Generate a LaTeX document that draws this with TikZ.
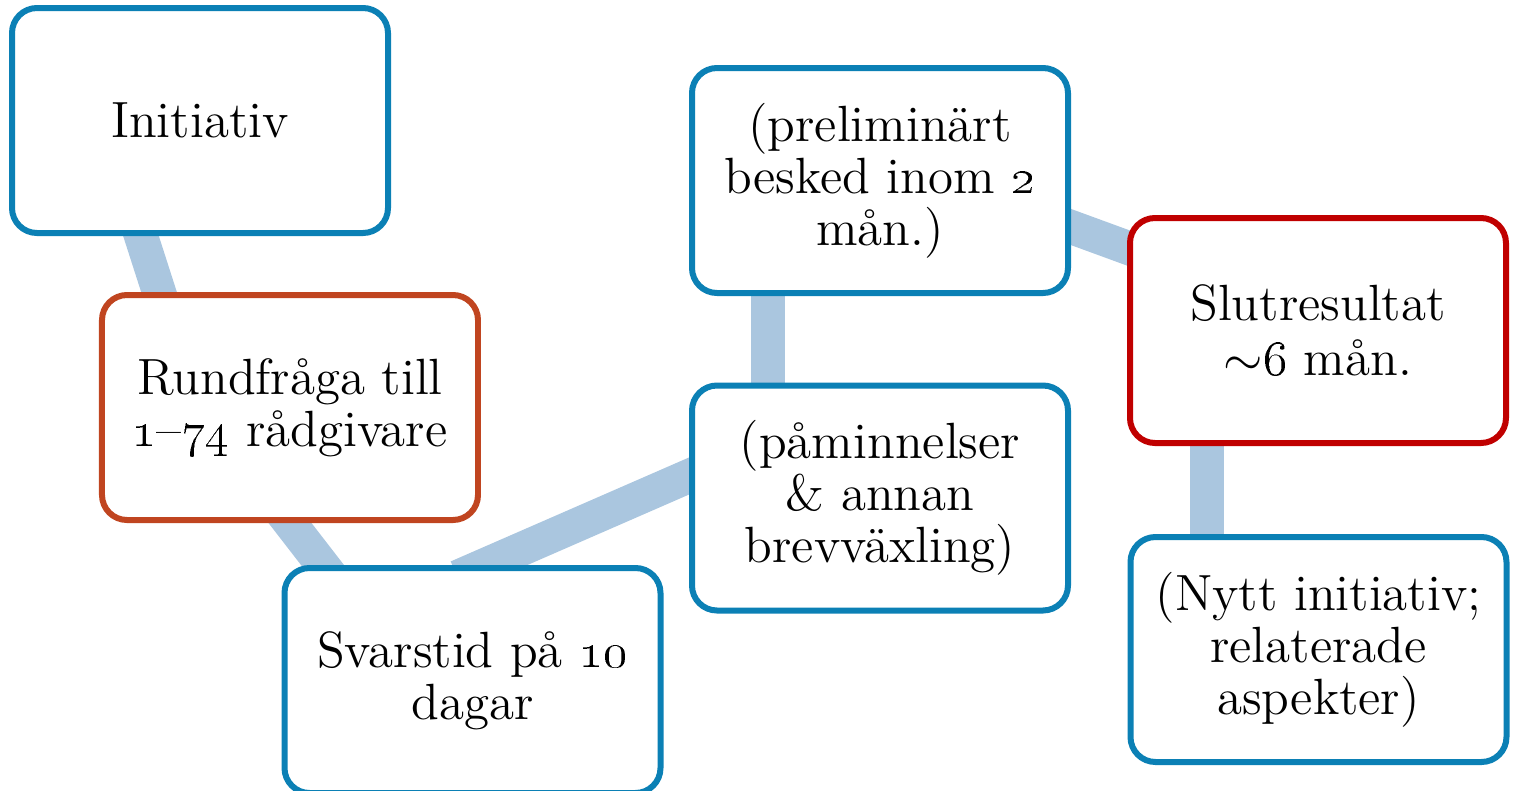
\documentclass[tikz,border=0pt]{standalone}
\usetikzlibrary{backgrounds}
\definecolor{boxblue}{HTML}{0B80B5}
\definecolor{boxorange}{HTML}{C04520}
\definecolor{boxred}{HTML}{C00000}
\definecolor{linkblue}{HTML}{AAC6DF}

\begin{document}
\begin{tikzpicture}[
  box/.style={draw=boxblue,line width=0.06cm,rounded corners=0.25cm,fill=white,
    minimum width=3.76cm,minimum height=2.25cm,align=center,
    font=\fontsize{14.5pt}{14.8pt}\selectfont},
  link/.style={draw=linkblue,line width=0.34cm,shorten <=-0.3cm,shorten >=-0.3cm}]
\useasboundingbox (0,0) rectangle (15.14,-7.90);
\node[box] (init) at (2.00,-1.205) {Initiativ};
\node[box,draw=boxorange] (rund) at (2.90,-4.075) {Rundfråga till\\\oldstylenums{1}--\oldstylenums{74} rådgivare};
\node[box] (svar) at (4.725,-6.805) {Svarstid på \oldstylenums{10}\\dagar};
\node[box] (prel) at (8.80,-1.805) {(preliminärt\\besked inom \oldstylenums{2}\\mån.)};
\node[box] (paam) at (8.80,-4.98) {(påminnelser\\\& annan\\brevväxling)};
\node[box,draw=boxred] (slut) at (13.18,-3.305) {Slutresultat\\[1pt]$\sim$\oldstylenums{6} mån.};
\node[box] (nytt) at (13.185,-6.495) {(Nytt initiativ;\\relaterade\\aspekter)};
\begin{pgfonlayer}{background}
\draw[link] ([xshift=-0.59cm]init.south) -- ([xshift=-1.31cm]rund.north);
\draw[link] (rund.south) -- ([xshift=-1.50cm]svar.north);
\draw[link] ([xshift=0.125cm]svar.north) -- ([yshift=0.22cm]paam.west);
\draw[link] ([xshift=-1.12cm]paam.north) -- ([xshift=-1.12cm]prel.south);
\draw[link] ([yshift=-0.465cm]prel.east) -- ([yshift=0.83cm]slut.west);
\draw[link] ([xshift=-1.11cm]slut.south) -- ([xshift=-1.115cm]nytt.north);
\end{pgfonlayer}
\end{tikzpicture}
\end{document}
